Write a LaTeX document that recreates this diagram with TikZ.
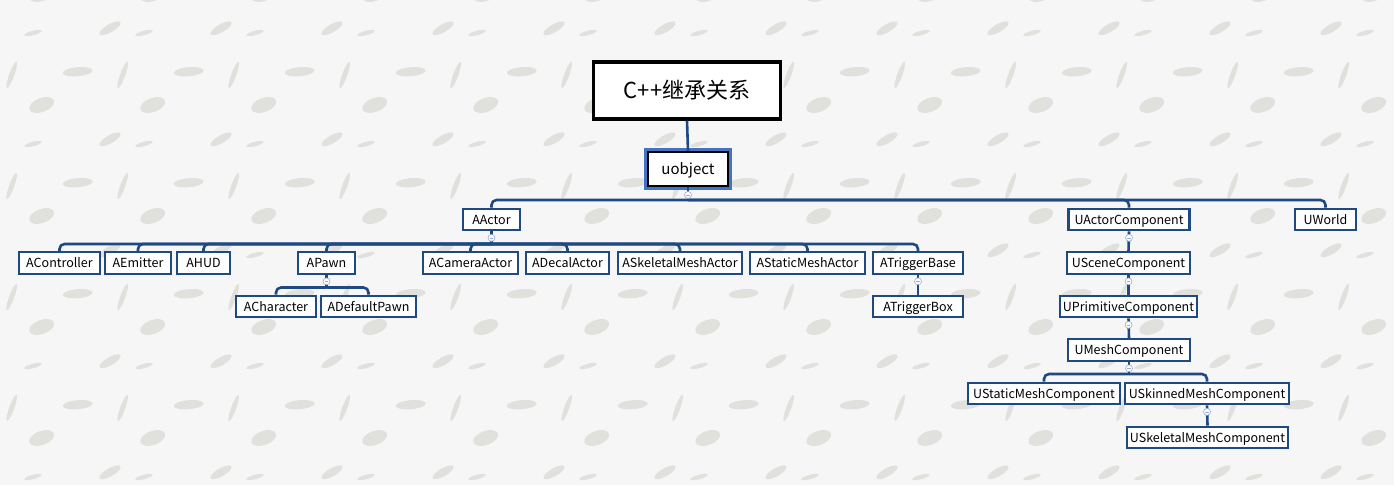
\documentclass[tikz,border=0pt]{standalone}
\usepackage{fontspec}
\setmainfont{Noto Sans CJK SC}
\usetikzlibrary{calc}

\definecolor{navy}{RGB}{31,73,130}
\definecolor{ringblue}{RGB}{68,114,196}
\definecolor{paper}{RGB}{246,246,246}
\definecolor{blob}{RGB}{224,224,220}
\definecolor{foldc}{RGB}{150,175,210}

\tikzset{
  cls/.style={draw=navy, line width=2.2pt, fill=white, inner sep=0pt,
    minimum height=21.5pt, text height=9pt, text depth=0pt,
    font=\fontsize{12.5}{14}\selectfont},
  rootbox/.style={draw=black, line width=3.4pt, fill=white, inner sep=0pt,
    minimum width=187pt, minimum height=57pt, text height=16pt, text depth=0pt,
    font=\fontsize{22}{26}\selectfont},
  topbox/.style={draw=black, line width=2.4pt, fill=white, inner sep=0pt,
    minimum width=79.5pt, minimum height=33.5pt, text height=11pt, text depth=0pt,
    font=\fontsize{15}{18}\selectfont,
    preaction={draw=ringblue, line width=8pt, rounded corners=3pt}},
  link/.style={draw=navy, line width=2.6pt, rounded corners=5pt},
  fold/.style={circle, draw=foldc, fill=white, line width=.6pt, minimum size=7pt,
    inner sep=0pt, path picture={\draw[foldc, line width=.6pt]
      ([xshift=1.8pt]path picture bounding box.west) --
      ([xshift=-1.8pt]path picture bounding box.east);}},
}

\begin{document}
\begin{tikzpicture}[x=1pt, y=-1pt]
\useasboundingbox (0,0) rectangle (1394,485);

% paper
\begin{scope}
\clip (0,0) rectangle (1394,485);
\fill[paper] (0,0) rectangle (1394,485);
\foreach \i in {0,...,13} {
  \foreach \j in {-1,...,4} {
    \begin{scope}[shift={(\i*111,\j*111)}]
      \fill[blob] (77.7,71.7) ellipse[x radius=15, y radius=4.5, rotate=5];
      \fill[blob] (41.7,105) ellipse[x radius=13, y radius=7, rotate=20];
      \fill[blob] (110,28.3) ellipse[x radius=12, y radius=4, rotate=30];
      \fill[blob] (11.7,75) ellipse[x radius=14, y radius=2.5, rotate=70];
      \fill[blob] (33,33) ellipse[x radius=9, y radius=2.2, rotate=15];
    \end{scope}
  }
}
\end{scope}

% nodes
\node[rootbox] (root) at (687,90.5) {C++继承关系};
\node[topbox] (uobject) at (688,169) {uobject};

\node[cls, minimum width=57pt] (aactor) at (491.5,219.5) {AActor};
\node[cls, minimum width=121pt] (uactorcomp) at (1129,219.5) {UActorComponent};
\node[cls, minimum width=61pt] (uworld) at (1325.5,219.5) {UWorld};

\node[cls, minimum width=81pt] (acontroller) at (59.5,263) {AController};
\node[cls, minimum width=66pt] (aemitter) at (138,263) {AEmitter};
\node[cls, minimum width=53pt] (ahud) at (203.5,263) {AHUD};
\node[cls, minimum width=57pt] (apawn) at (326.5,263) {APawn};
\node[cls, minimum width=95pt] (acamera) at (470.5,263) {ACameraActor};
\node[cls, minimum width=83pt] (adecal) at (567.5,263) {ADecalActor};
\node[cls, minimum width=124pt] (askeletal) at (680,263) {ASkeletalMeshActor};
\node[cls, minimum width=115pt] (astatic) at (807.5,263) {AStaticMeshActor};
\node[cls, minimum width=90pt] (atriggerbase) at (918,263) {ATriggerBase};
\node[cls, minimum width=123pt] (uscenecomp) at (1128.5,263) {USceneComponent};

\node[cls, minimum width=80pt] (acharacter) at (276,306.5) {ACharacter};
\node[cls, minimum width=95pt] (adefaultpawn) at (368.5,306.5) {ADefaultPawn};
\node[cls, minimum width=90pt] (atriggerbox) at (918,306.5) {ATriggerBox};
\node[cls, minimum width=137pt] (uprimcomp) at (1128.5,306.5) {UPrimitiveComponent};

\node[cls, minimum width=122pt] (umeshcomp) at (1129,350) {UMeshComponent};

\node[cls, minimum width=152pt] (ustaticmesh) at (1044,393.5) {UStaticMeshComponent};
\node[cls, minimum width=164pt] (uskinnedmesh) at (1207,393.5) {USkinnedMeshComponent};

\node[cls, minimum width=161pt] (uskeletalmesh) at (1207.5,437.5) {USkeletalMeshComponent};

% buses
\coordinate (bus1) at (0,200);
\coordinate (bus2) at (0,244);
\coordinate (bus3) at (0,287.5);
\coordinate (bus4) at (0,374);

% links
\draw[link] (root.south) -- (uobject.north);

\draw[link] (uobject.south) -- (uobject.south |- bus1);
\foreach \c in {aactor,uactorcomp,uworld}
  \draw[link] (uobject.south |- bus1) -| (\c.north);

\draw[link] (aactor.south) -- (aactor.south |- bus2);
\foreach \c in {acontroller,aemitter,ahud,apawn,acamera,adecal,askeletal,astatic,atriggerbase}
  \draw[link] (aactor.south |- bus2) -| (\c.north);

\draw[link] (apawn.south) -- (apawn.south |- bus3);
\foreach \c in {acharacter,adefaultpawn}
  \draw[link] (apawn.south |- bus3) -| (\c.north);

\draw[link] (atriggerbase.south) -- (atriggerbox.north);
\draw[link] (uactorcomp.south) -- (uscenecomp.north);
\draw[link] (uscenecomp.south) -- (uprimcomp.north);
\draw[link] (uprimcomp.south) -- (umeshcomp.north);

\draw[link] (umeshcomp.south) -- (umeshcomp.south |- bus4);
\foreach \c in {ustaticmesh,uskinnedmesh}
  \draw[link] (umeshcomp.south |- bus4) -| (\c.north);

\draw[link] (uskinnedmesh.south) -- (uskeletalmesh.north);

% fold markers
\foreach \p in {aactor,apawn,atriggerbase,uactorcomp,uscenecomp,uprimcomp,umeshcomp,uskinnedmesh}
  \node[fold] at ($(\p.south)+(0,6.5)$) {};
\node[fold] at ($(uobject.south)+(0,8)$) {};

\end{tikzpicture}
\end{document}
